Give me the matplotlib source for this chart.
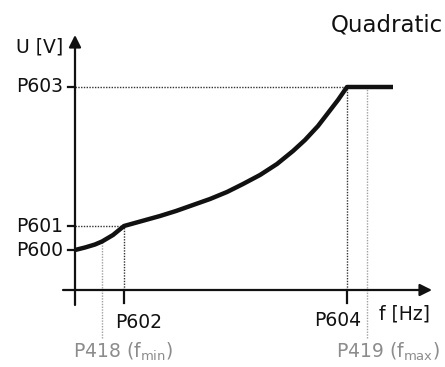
import matplotlib
matplotlib.use('Agg')
import matplotlib.pyplot as plt

# parameter positions (arbitrary units)
f_marks = {'P418': 27, 'P602': 49, 'P604': 272, 'P419': 292}
f_end = 318
u_marks = {'P600': 40, 'P601': 64, 'P603': 203}

# curve points
curve_f = [0, 10, 20, 27, 38, 49, 67, 85, 101, 118, 135, 152, 168, 185,
           202, 218, 230, 243, 253, 263, 272, 318]
curve_u = [40, 42.5, 45.5, 48.5, 55, 64, 69, 74, 79, 85, 91, 98, 106, 115,
           126, 139, 150, 164, 177, 190, 203, 203]

black = '#111111'
grey = '#8c8c8c'

fig = plt.figure(figsize=(4.45, 3.67), dpi=100)
ax = fig.add_axes([0, 0, 1, 1])
ax.set_xlim(-75, 370)
ax.set_ylim(-77, 290)
ax.axis('off')

# axes with arrows
ax.annotate('', xy=(357, 0), xytext=(-12, 0),
            arrowprops=dict(arrowstyle='-|>', lw=1.6, color=black,
                            mutation_scale=18, shrinkA=0, shrinkB=0))
ax.annotate('', xy=(0, 255), xytext=(0, -15),
            arrowprops=dict(arrowstyle='-|>', lw=1.6, color=black,
                            mutation_scale=18, shrinkA=0, shrinkB=0))

# ticks
for k in ['P602', 'P604']:
    ax.plot([f_marks[k], f_marks[k]], [0, -13], color=black, lw=1.6)
for k in ['P600', 'P601', 'P603']:
    ax.plot([-7, 0], [u_marks[k], u_marks[k]], color=black, lw=1.6)

# dotted guide lines
dot = dict(ls=(0, (1, 1)), lw=1.0)
ax.plot([0, f_marks['P602']], [u_marks['P601']] * 2, color='#333333', **dot)
ax.plot([f_marks['P602']] * 2, [0, u_marks['P601']], color='#333333', **dot)
ax.plot([0, f_marks['P604']], [u_marks['P603']] * 2, color='#333333', **dot)
ax.plot([f_marks['P604']] * 2, [0, u_marks['P603']], color='#333333', **dot)
ax.plot([f_marks['P418']] * 2, [-48, 48], color='#a0a0a0', **dot)
ax.plot([f_marks['P419']] * 2, [-48, u_marks['P603']], color='#a0a0a0', **dot)

# the characteristic
ax.plot(curve_f, curve_u, color=black, lw=3.2, solid_capstyle='butt',
        solid_joinstyle='round')

fs = 13.5
for k in ['P600', 'P601', 'P603']:
    ax.text(-12, u_marks[k], k, ha='right', va='center', fontsize=fs, color=black)
ax.text(-12, 243, 'U [V]', ha='right', va='center', fontsize=fs, color=black)
ax.text(40, -32, 'P602', ha='left', va='center', fontsize=fs, color=black)
ax.text(286, -30, 'P604', ha='right', va='center', fontsize=fs, color=black)
ax.text(355, -24, 'f [Hz]', ha='right', va='center', fontsize=fs, color=black)
ax.text(-2, -62, r'P418 (f$_{\mathregular{min}}$)', ha='left', va='center',
        fontsize=fs, color=grey)
ax.text(365, -62, r'P419 (f$_{\mathregular{max}}$)', ha='right', va='center',
        fontsize=fs, color=grey)
ax.text(368, 265, 'Quadratic', ha='right', va='center', fontsize=16.5, color=black)

fig.savefig('out.png', dpi=100)
